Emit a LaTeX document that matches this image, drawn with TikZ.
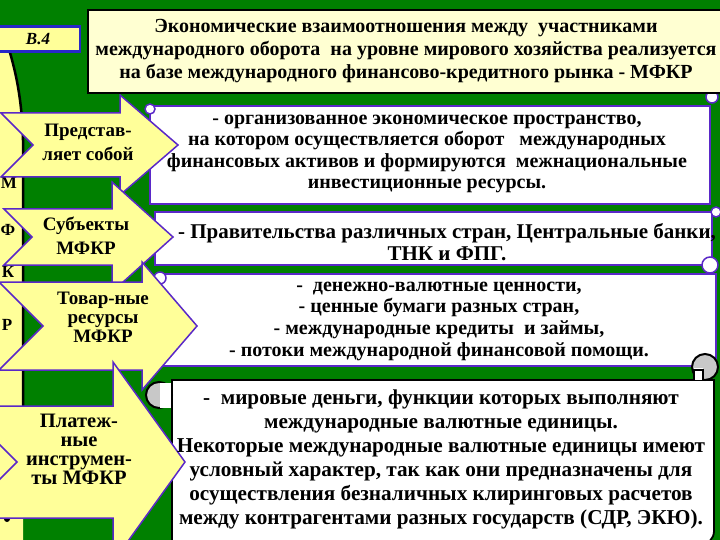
\documentclass[tikz,border=0pt]{standalone}
\usepackage{fontspec}
\setmainfont{Liberation Serif}
\definecolor{bggreen}{RGB}{0,128,0}
\definecolor{arrowyellow}{RGB}{255,255,153}
\definecolor{titlefill}{RGB}{255,255,210}
\definecolor{edgepurple}{RGB}{90,40,200}
\definecolor{labelblue}{RGB}{40,40,200}
\definecolor{curlgrey}{RGB}{200,200,200}
\newcommand{\notcharrow}[6]{% notchx, cy, bodyhalf, headx, headhalf, tipx
  (#1-#3,#2-#3) -- (#4,#2-#3) -- (#4,#2-#5) -- (#6,#2) -- (#4,#2+#5) -- (#4,#2+#3) -- (#1-#3,#2+#3) -- (#1,#2) -- cycle}
\tikzset{
  arrowbox/.style={fill=arrowyellow, draw=edgepurple, line width=1.5pt, line join=miter},
  bannerbox/.style={fill=white, draw=edgepurple, line width=1.8pt},
  curl/.style={fill=white, draw=edgepurple, line width=1.5pt},
  bigcurl/.style={fill=curlgrey, draw=black, line width=2pt},
  txt/.style={align=center, text=black, inner sep=0pt},
}
\begin{document}
\begin{tikzpicture}[x=1pt,y=-1pt]
\useasboundingbox (0,0) rectangle (720,540);
\clip (0,0) rectangle (720,540);
\fill[bggreen] (0,0) rectangle (720,540);

% left vertical scroll
\fill[arrowyellow] (0,40) -- (6,40) .. controls (16,70) and (22,100) .. (23,140) -- (23,540) -- (0,540) -- cycle;
\draw[black, line width=2.5pt] (6,40) .. controls (16,70) and (22,100) .. (23,140) -- (23,515);
\fill[black] (7,519) circle (3);
\node[txt, font=\bfseries\fontsize{17}{20}\selectfont] (l1) at (9,183) {М};
\node[txt, font=\bfseries\fontsize{17}{20}\selectfont] (l2) at (8,230) {Ф};
\node[txt, font=\bfseries\fontsize{17}{20}\selectfont] (l3) at (8,272) {К};
\node[txt, font=\bfseries\fontsize{17}{20}\selectfont] (l4) at (7,325) {Р};

% right horizontal scroll banners
\draw[bannerbox] (150,106) rectangle (710,204);
\draw[bannerbox] (155,212) rectangle (712,265);
\draw[bannerbox] (160,274) rectangle (716,366);
\draw[fill=white, draw=black, line width=1.8pt] (172,560) -- (172,380) -- (714,380) [rounded corners=14pt] -- (714,545) -- (600,545);
\draw[curl] (150,109) circle (5);
\draw[curl] (712,97) circle (6);
\draw[curl] (716,212) circle (5);
\draw[curl] (710,265) circle (8);
\draw[curl] (160,278) circle (6);
\draw[bigcurl] (705,367) circle (13);
\fill[white] (694,368) rectangle (703,380);
\draw[black, line width=1.2pt] (694,380) -- (694,370) -- (703,370) -- (703,380);
\draw[bigcurl] (159,395) circle (13);
\fill[white] (160,383) rectangle (171,408);

% arrows
\draw[arrowbox] \notcharrow{33}{145}{32}{120}{50}{178};
\draw[arrowbox] \notcharrow{32}{237}{28}{112}{55}{173};
\draw[arrowbox] \notcharrow{43}{326}{44}{142}{64}{197};
\draw[arrowbox] \notcharrow{17}{462}{56}{113}{100}{185};

\node[txt, font=\bfseries\fontsize{19}{24}\selectfont] (a1) at (88,142) {Представ-\\ляет собой};
\node[txt, font=\bfseries\fontsize{19}{24}\selectfont] (a2) at (86,236) {Субъекты\\МФКР};
\node[txt, font=\bfseries\fontsize{19}{19}\selectfont] (a3) at (103,317) {Товар-ные\\ресурсы\\МФКР};
\node[txt, font=\bfseries\fontsize{20.5}{19}\selectfont] (a4) at (79,449) {Платеж-\\ные\\инструмен-\\ты МФКР};

% title
\draw[fill=titlefill, draw=black, line width=1.2pt] (88,10) rectangle (730,93);
\node[txt, font=\bfseries\fontsize{20}{23}\selectfont] (title) at (406,51) {Экономические взаимоотношения между \ участниками\\международного оборота \ на уровне мирового хозяйства реализуется\\на базе международного финансово-кредитного рынка - МФКР};

% B.4 label
\node[draw=labelblue, fill=arrowyellow, line width=2.5pt, minimum width=84pt, minimum height=25pt, inner sep=0pt, font=\bfseries\itshape\fontsize{17}{20}\selectfont] (lab) at (38,39) {В.4};

% banner texts
\node[txt, font=\bfseries\fontsize{20}{21.3}\selectfont] (b1) at (427,154) {- организованное экономическое пространство,\\на котором осуществляется оборот \ \ международных\\финансовых активов и формируются \ межнациональные\\инвестиционные ресурсы.};
\node[txt, font=\bfseries\fontsize{21}{22}\selectfont] (b2) at (447,242) {- Правительства различных стран, Центральные банки,\\ТНК и ФПГ.};
\node[txt, font=\bfseries\fontsize{20}{21.7}\selectfont] (b3) at (439,321) {- \ денежно-валютные ценности,\\- ценные бумаги разных стран,\\- международные кредиты \ и займы,\\- потоки международной финансовой помощи.};
\node[txt, font=\bfseries\fontsize{21.2}{24}\selectfont] (b4) at (441,459) {- \ мировые деньги, функции которых выполняют\\международные валютные единицы.\\Некоторые международные валютные единицы имеют\\условный характер, так как они предназначены для\\осуществления безналичных клиринговых расчетов\\между контрагентами разных государств (СДР, ЭКЮ).};
\end{tikzpicture}
\end{document}
